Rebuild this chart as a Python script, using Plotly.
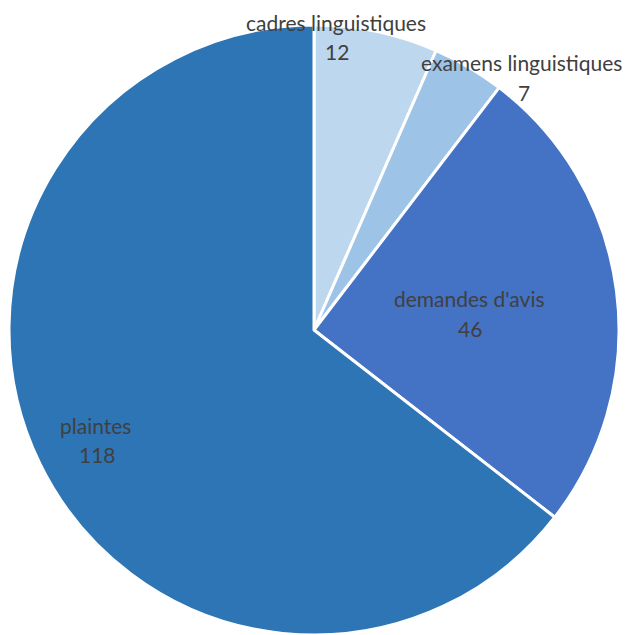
import plotly.graph_objects as go

# Répartition des dossiers
categories = ["cadres linguistiques", "examens linguistiques", "demandes d'avis", "plaintes"]
values = [12, 7, 46, 118]
colors = ["#BDD7EE", "#9DC3E6", "#4472C4", "#2E75B6"]

W, H = 637, 635
cx, cy, r = 314, 330, 305  # pie centre and radius in pixels

# Label anchor points (pixels, top-left origin): name line, value line
label_name_pos = [(336, 22), (521, 63), (470, 298), (95, 425)]
label_value_pos = [(337, 52), (524, 92), (470, 328), (97, 455)]


def clamp(v):
    return min(1.0, max(0.0, v))


fig = go.Figure(
    go.Pie(
        labels=categories,
        values=values,
        sort=False,
        direction="clockwise",
        rotation=0,
        textinfo="none",
        hoverinfo="label+value",
        marker=dict(colors=colors, line=dict(color="white", width=3)),
        domain=dict(
            x=[clamp((cx - r) / W), clamp((cx + r) / W)],
            y=[clamp((H - cy - r) / H), clamp((H - cy + r) / H)],
        ),
        showlegend=False,
    )
)

font = dict(family="Lato, Open Sans, sans-serif", size=21, color="#404040")
annotations = []
for name, val, (nx, ny), (vx, vy) in zip(categories, values, label_name_pos, label_value_pos):
    annotations.append(dict(x=nx / W, y=1 - ny / H, xref="paper", yref="paper",
                            text=name, showarrow=False, font=font,
                            xanchor="center", yanchor="middle"))
    annotations.append(dict(x=vx / W, y=1 - vy / H, xref="paper", yref="paper",
                            text=str(val), showarrow=False, font=font,
                            xanchor="center", yanchor="middle"))

fig.update_layout(
    width=W,
    height=H,
    margin=dict(l=0, r=0, t=0, b=0),
    paper_bgcolor="white",
    plot_bgcolor="white",
    annotations=annotations,
)

fig.write_html("out.html")
